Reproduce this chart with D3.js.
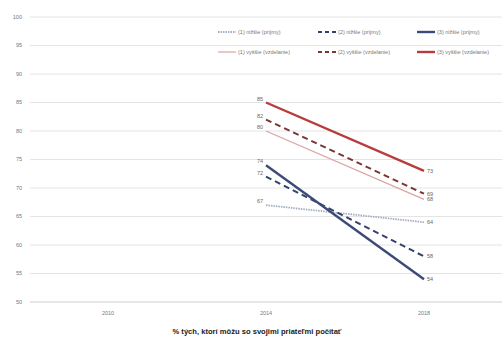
<!DOCTYPE html>
<html>
<head>
<meta charset="utf-8">
<script src="https://cdn.jsdelivr.net/npm/d3@7"></script>
<style>
  html, body { margin: 0; padding: 0; background: #fff; }
  svg { display: block; font-family: "Liberation Sans", Arial, sans-serif; }
</style>
</head>
<body>
<svg id="chart" width="502" height="338"></svg>
<script>
// Categories on the x axis
const years = ["2010", "2014", "2018"];
// Y axis ticks (percent)
const yTicks = [50, 55, 60, 65, 70, 75, 80, 85, 90, 95, 100];

// Series values: only 2014 and 2018 are measured
const seriesNames = [
  "(1) nižšie (príjmy)", "(2) nižšie (príjmy)", "(3) nižšie (príjmy)",
  "(1) vyššie (vzdelanie)", "(2) vyššie (vzdelanie)", "(3) vyššie (vzdelanie)"
];
const values2014 = [67, 72, 74, 80, 82, 85];
const values2018 = [64, 58, 54, 68, 69, 73];

const title = "% tých, ktorí môžu so svojimi priateľmi počítať";

// Line styles per series
const styles = [
  { color: "#a3adc0", width: 1.8, dash: "1.5,1", legendDash: "1.5,1" },
  { color: "#34426c", width: 2,   dash: "6,4",   legendDash: "4,3" },
  { color: "#3c4a78", width: 2.4, dash: null,    legendDash: null },
  { color: "#dba3a3", width: 1.2, dash: null,    legendDash: null },
  { color: "#7a3535", width: 2,   dash: "6,4",   legendDash: "4,3" },
  { color: "#b83c3c", width: 2.4, dash: null,    legendDash: null }
];

const svg = d3.select("#chart");

const x = d3.scalePoint().domain(years).range([29, 503]).padding(0.5);
const y = d3.scaleLinear().domain([50, 100]).range([302, 17]);

// Horizontal gridlines
svg.append("g").selectAll("line").data(yTicks).join("line")
  .attr("x1", 30).attr("x2", 502)
  .attr("y1", d => y(d)).attr("y2", d => y(d))
  .attr("stroke", d => d === 50 ? "#cfcfcf" : "#e4e4e4")
  .attr("stroke-width", 1);

// Y axis labels
svg.append("g").selectAll("text").data(yTicks).join("text")
  .attr("x", 22).attr("y", d => y(d))
  .attr("dy", "0.35em")
  .attr("text-anchor", "end")
  .attr("font-size", 5.5)
  .attr("fill", "#777")
  .text(d => d);

// X axis labels
svg.append("g").selectAll("text").data(years).join("text")
  .attr("x", d => x(d)).attr("y", 315)
  .attr("text-anchor", "middle")
  .attr("font-size", 5.5)
  .attr("fill", "#777")
  .text(d => d);

// Title under the axis
svg.append("text")
  .attr("x", 257).attr("y", 334)
  .attr("text-anchor", "middle")
  .attr("font-size", 7.6)
  .attr("font-weight", "bold")
  .attr("fill", "#222")
  .text(title);

// Series data
const series = seriesNames.map((name, i) => ({
  name,
  style: styles[i],
  points: [
    { year: "2014", value: values2014[i] },
    { year: "2018", value: values2018[i] }
  ]
}));

const line = d3.line().x(d => x(d.year)).y(d => y(d.value));

svg.append("g").selectAll("path").data(series).join("path")
  .attr("d", d => line(d.points))
  .attr("fill", "none")
  .attr("stroke", d => d.style.color)
  .attr("stroke-width", d => d.style.width)
  .attr("stroke-dasharray", d => d.style.dash);

// Value labels: left of the 2014 points, right of the 2018 points
const labels = svg.append("g").attr("font-size", 5.5).attr("fill", "#666");
series.forEach(s => {
  const p0 = s.points[0], p1 = s.points[1];
  labels.append("text")
    .attr("x", x(p0.year) - 3).attr("y", y(p0.value) - 2)
    .attr("text-anchor", "end")
    .text(p0.value);
  labels.append("text")
    .attr("x", x(p1.year) + 3).attr("y", y(p1.value))
    .attr("dy", "0.35em")
    .text(p1.value);
});

// Legend: two rows of three entries
const legendX = [218, 318, 417];
const legendY = [32, 52];
const legend = svg.append("g");
series.forEach((s, i) => {
  const col = i % 3, row = Math.floor(i / 3);
  const lx = legendX[col], ly = legendY[row];
  legend.append("line")
    .attr("x1", lx).attr("x2", lx + 18)
    .attr("y1", ly).attr("y2", ly)
    .attr("stroke", s.style.color)
    .attr("stroke-width", s.style.width)
    .attr("stroke-dasharray", s.style.legendDash);
  legend.append("text")
    .attr("x", lx + 20).attr("y", ly)
    .attr("dy", "0.35em")
    .attr("font-size", 5.5)
    .attr("fill", "#777")
    .text(s.name);
});
</script>
</body>
</html>
